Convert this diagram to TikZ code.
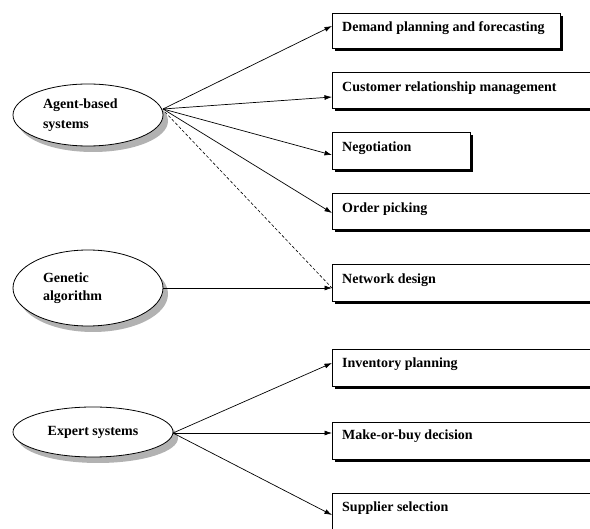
\documentclass[tikz,border=0pt]{standalone}
\usepackage{fontspec}
\setmainfont{Liberation Serif}
\usetikzlibrary{shadows,arrows.meta,calc,shapes.geometric}
\begin{document}
\begin{tikzpicture}[x=1pt,y=-1pt,
  ell/.style={ellipse, draw, line width=0.8pt, fill=white, font=\fontsize{14}{17}\selectfont\bfseries,
    drop shadow={shadow xshift=5pt, shadow yshift=-6pt, fill=black!30, opacity=1}},
  bx/.style={rectangle, draw, line width=0.8pt, fill=white, anchor=north west, inner sep=0pt,
    font=\fontsize{14}{17}\selectfont\bfseries,
    drop shadow={shadow xshift=2.5pt, shadow yshift=-2.5pt, fill=black, opacity=1}},
  bt/.style={anchor=west, font=\fontsize{14}{17}\selectfont\bfseries, inner sep=0pt},
  con/.style={line width=0.7pt, -{Latex[length=7.5pt,width=5pt]}},
]
\useasboundingbox (0,0) rectangle (590,529);
\clip (0,0) rectangle (590,529);

% ellipses
\node[ell, minimum width=150, minimum height=62, inner sep=0pt, text width=90, align=left,
  font=\fontsize{14}{20}\selectfont\bfseries] (agent) at (88,115) {Agent-based\\systems};
\node[ell, minimum width=150, minimum height=76, inner sep=0pt, text width=90, align=left,
  font=\fontsize{14}{18}\selectfont\bfseries] (genetic) at (88,288) {Genetic\\algorithm};
\node[ell, minimum width=160, minimum height=50, inner sep=0pt] (expert) at (93,432) {Expert systems};

% boxes
\node[bx, minimum width=228, minimum height=35] (dem) at (332,13) {};
\node[bx, minimum width=290, minimum height=36] (crm) at (332,72) {};
\node[bx, minimum width=138, minimum height=37] (neg) at (332,132) {};
\node[bx, minimum width=290, minimum height=36] (ord) at (332,193) {};
\node[bx, minimum width=290, minimum height=37] (net) at (332,264) {};
\node[bx, minimum width=290, minimum height=37] (inv) at (332,349) {};
\node[bx, minimum width=290, minimum height=37] (mob) at (332,422) {};
\node[bx, minimum width=290, minimum height=50] (sup) at (332,493) {};

% texts
\node[bt] (tdem) at (342,28) {Demand planning and forecasting};
\node[bt] (tcrm) at (342,88) {Customer relationship management};
\node[bt] (tneg) at (342,148) {Negotiation};
\node[bt] (tord) at (342,209) {Order picking};
\node[bt] (tnet) at (342,280) {Network design};
\node[bt] (tinv) at (342,364) {Inventory planning};
\node[bt] (tmob) at (342,436) {Make-or-buy decision};
\node[bt] (tsup) at (342,508) {Supplier selection};

% connectors
\coordinate (as) at (163,109);
\coordinate (es) at (173,433);
\draw[con] (as) -- ($(dem.north west)+(0,13)$);
\draw[con] (as) -- ($(crm.north west)+(0,25)$);
\draw[con] (as) -- ($(neg.north west)+(0,23)$);
\draw[con] (as) -- ($(ord.north west)+(0,20)$);
\draw[line width=0.6pt, dashed, dash pattern=on 3pt off 2pt] ($(as)+(2,3)$) -- ($(net.north west)+(0,24)$);
\draw[con] (genetic.east) -- ($(net.north west)+(0,24)$);
\draw[con] (es) -- ($(inv.north west)+(0,14)$);
\draw[con] (es) -- ($(mob.north west)+(0,11)$);
\draw[con] (es) -- ($(sup.north west)+(0,22)$);
\end{tikzpicture}
\end{document}
